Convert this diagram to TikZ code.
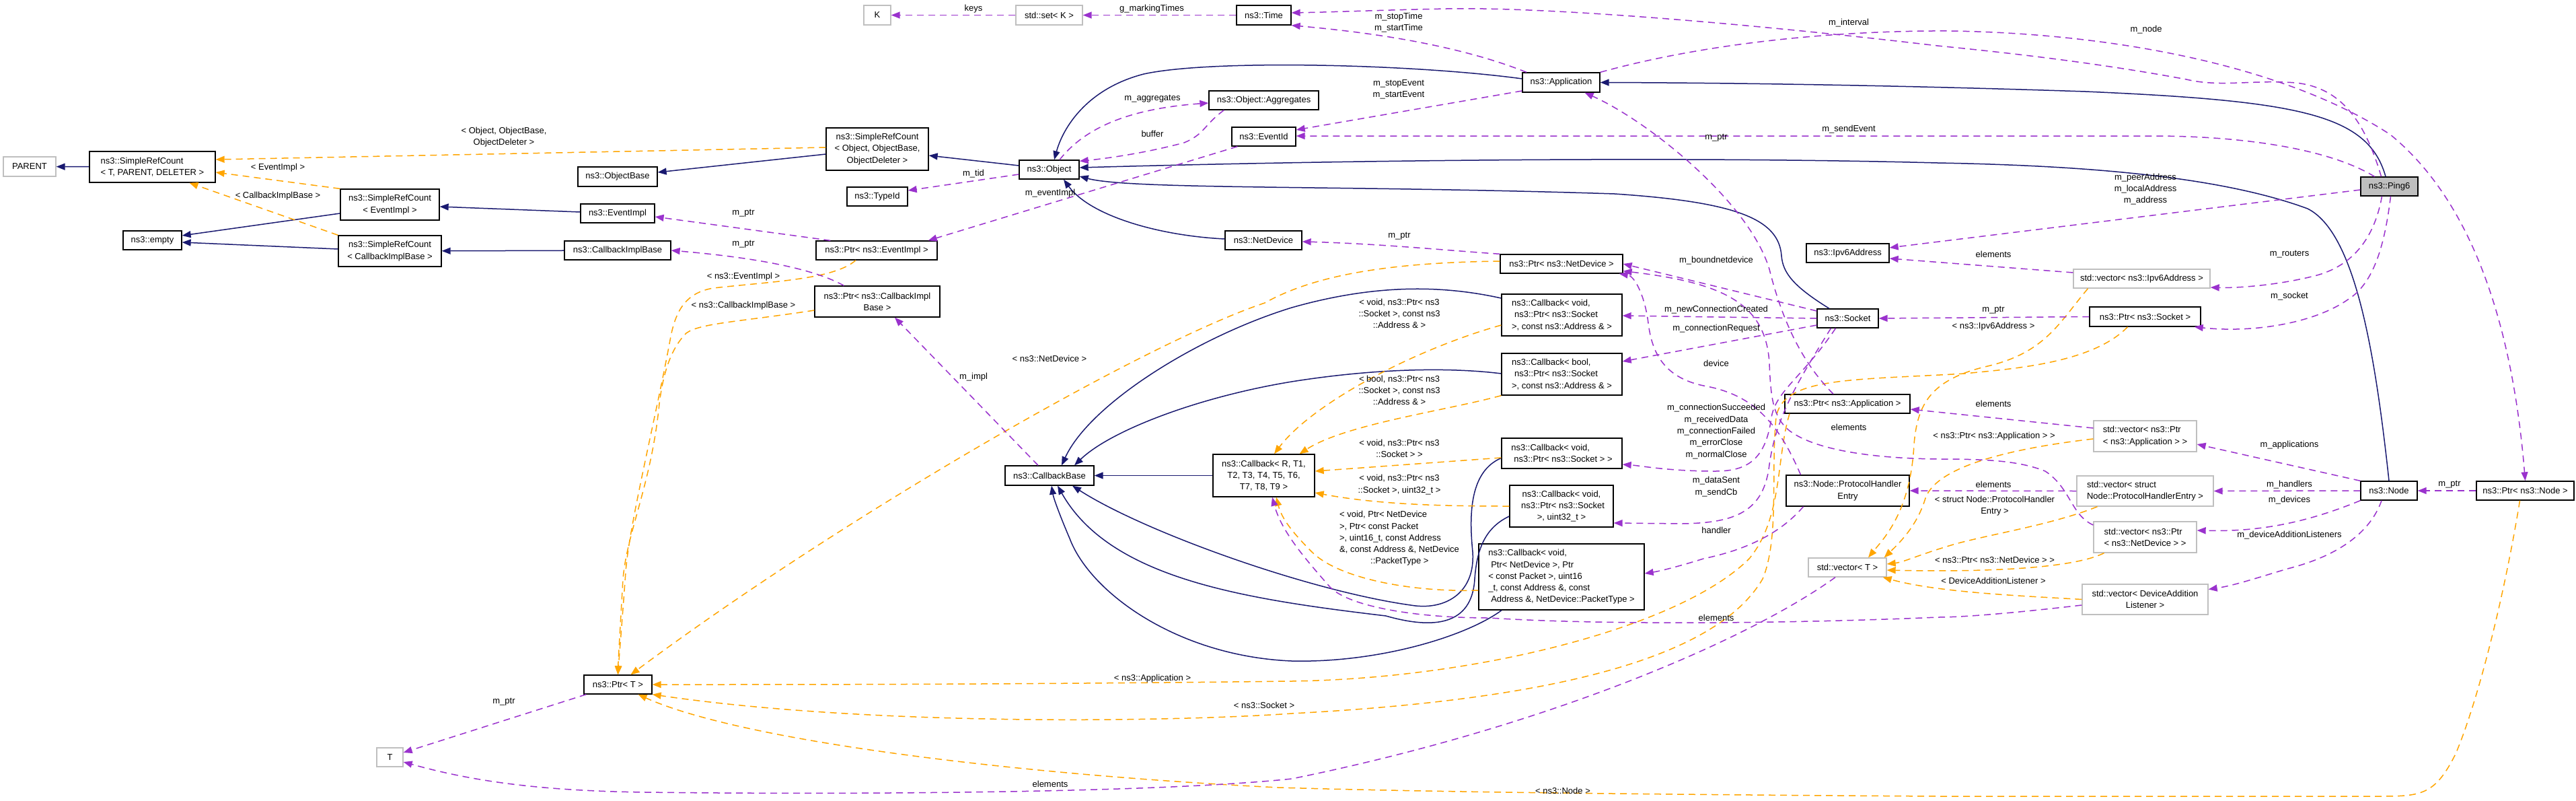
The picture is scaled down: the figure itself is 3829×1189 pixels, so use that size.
\documentclass[tikz,border=0pt]{standalone}
\usepackage{fontspec}
\setmainfont{Liberation Sans}
\usetikzlibrary{arrows.meta}
\definecolor{navy}{HTML}{191970}
\definecolor{purp}{HTML}{9A32CD}
\definecolor{orng}{HTML}{FFA500}
\definecolor{gbord}{HTML}{BFBFBF}
\begin{document}
\begin{tikzpicture}[x=1pt,y=-1pt,
  every node/.style={font=\fontsize{13}{17.3}\selectfont, inner sep=0pt},
  cbox/.style={draw=black, line width=1.3pt, fill=white, align=center},
  gbox/.style={draw=gbord, line width=1.3pt, fill=white, align=center},
  inh/.style={draw=navy, line width=1.5pt, -{Triangle[length=13pt,width=10pt]}},
  usage/.style={draw=purp, line width=1.5pt, dash pattern=on 10pt off 7pt, -{Triangle[length=13pt,width=10pt]}},
  tmpl/.style={draw=orng, line width=1.5pt, dash pattern=on 10pt off 7pt, -{Triangle[length=13pt,width=10pt]}},
  lbl/.style={align=center}
]
\fill[white] (0,0) rectangle (3829,1189);
\useasboundingbox (0,0) rectangle (3829,1189);

% ---------------- nodes ----------------
\node[gbox,minimum width=78pt,minimum height=29pt] (parent) at (44,247.5) {PARENT};
\node[cbox,align=left,minimum width=187pt,minimum height=46pt] (srcT) at (226.5,248) {ns3::SimpleRefCount\\< T, PARENT, DELETER >};
\node[cbox,minimum width=147pt,minimum height=46pt] (srcEv) at (579.5,304) {ns3::SimpleRefCount\\< EventImpl >};
\node[cbox,minimum width=87pt,minimum height=28pt] (empty) at (226.5,357) {ns3::empty};
\node[cbox,minimum width=153pt,minimum height=46pt] (srcCb) at (579.5,373) {ns3::SimpleRefCount\\< CallbackImplBase >};
\node[cbox,minimum width=118pt,minimum height=29pt] (objbase) at (918,262.5) {ns3::ObjectBase};
\node[cbox,minimum width=110pt,minimum height=28pt] (eventimpl) at (918,317) {ns3::EventImpl};
\node[cbox,minimum width=158pt,minimum height=28pt] (cbimplbase) at (918,372) {ns3::CallbackImplBase};
\node[gbox,minimum width=40pt,minimum height=29pt] (K) at (1304,22.5) {K};
\node[gbox,minimum width=99pt,minimum height=29pt] (setK) at (1559.5,22.5) {std::set< K >};
\node[cbox,minimum width=81pt,minimum height=29pt] (time) at (1878.5,22.5) {ns3::Time};
\node[cbox,minimum width=152pt,minimum height=63pt] (srcObj) at (1304,221.5) {ns3::SimpleRefCount\\< Object, ObjectBase,\\ObjectDeleter >};
\node[cbox,minimum width=89pt,minimum height=28pt] (object) at (1559.5,252) {ns3::Object};
\node[cbox,minimum width=90pt,minimum height=28pt] (typeid) at (1304,292) {ns3::TypeId};
\node[cbox,minimum width=163pt,minimum height=28pt] (aggr) at (1878.5,149) {ns3::Object::Aggregates};
\node[cbox,minimum width=95pt,minimum height=28pt] (eventid) at (1878.5,203) {ns3::EventId};
\node[cbox,minimum width=114pt,minimum height=28pt] (netdevice) at (1878,357) {ns3::NetDevice};
\node[cbox,minimum width=180pt,minimum height=28pt] (ptrEv) at (1303,372) {ns3::Ptr< ns3::EventImpl >};
\node[cbox,minimum width=115pt,minimum height=29pt] (app) at (2320.5,122.5) {ns3::Application};
\node[cbox,minimum width=182pt,minimum height=28pt] (ptrNd) at (2321,392) {ns3::Ptr< ns3::NetDevice >};
\node[cbox,minimum width=123pt,minimum height=28pt] (ipv6) at (2746.5,376) {ns3::Ipv6Address};
\node[cbox,fill=gbord,minimum width=85pt,minimum height=28pt] (ping6) at (3551.5,277) {ns3::Ping6};
\node[cbox,minimum width=186pt,minimum height=46pt] (ptrCb) at (1304,448) {ns3::Ptr< ns3::CallbackImpl\\Base >};
\node[cbox,minimum width=132pt,minimum height=29pt] (cbbase) at (1560,706.5) {ns3::CallbackBase};
\node[cbox,minimum width=151pt,minimum height=63pt] (cbR) at (1878.5,706.5) {ns3::Callback< R, T1,\\T2, T3, T4, T5, T6,\\T7, T8, T9 >};
\node[cbox,align=left,minimum width=179pt,minimum height=62pt] (cbAddr) at (2321.5,468) {ns3::Callback< void,\\\hspace*{4pt}ns3::Ptr< ns3::Socket\\>, const ns3::Address \& >};
\node[cbox,align=left,minimum width=179pt,minimum height=62pt] (cbBool) at (2321.5,556) {ns3::Callback< bool,\\\hspace*{4pt}ns3::Ptr< ns3::Socket\\>, const ns3::Address \& >};
\node[cbox,align=left,minimum width=179pt,minimum height=45pt] (cbSock) at (2321.5,673.5) {ns3::Callback< void,\\\hspace*{4pt}ns3::Ptr< ns3::Socket > >};
\node[cbox,minimum width=154pt,minimum height=62pt] (cbU32) at (2321,752) {ns3::Callback< void,\\\hspace*{4pt}ns3::Ptr< ns3::Socket\\>, uint32\_t >};
\node[cbox,align=left,minimum width=246pt,minimum height=98pt] (cbNd) at (2321,857) {ns3::Callback< void,\\\hspace*{4pt}Ptr< NetDevice >, Ptr\\< const Packet >, uint16\\\_t, const Address \&, const\\\hspace*{4pt}Address \&, NetDevice::PacketType >};
\node[cbox,minimum width=91pt,minimum height=28pt] (socket) at (2746.5,473) {ns3::Socket};
\node[cbox,minimum width=186pt,minimum height=28pt] (ptrApp) at (2746,600) {ns3::Ptr< ns3::Application >};
\node[cbox,minimum width=183pt,minimum height=46pt] (phe) at (2746.5,729) {ns3::Node::ProtocolHandler\\Entry};
\node[gbox,minimum width=203pt,minimum height=28pt] (vIpv6) at (3183.5,414) {std::vector< ns3::Ipv6Address >};
\node[cbox,minimum width=165pt,minimum height=29pt] (ptrSock) at (3188.5,470.5) {ns3::Ptr< ns3::Socket >};
\node[gbox,align=left,minimum width=153pt,minimum height=46pt] (vApp) at (3188.5,648) {std::vector< ns3::Ptr\\< ns3::Application > >};
\node[gbox,align=left,minimum width=203pt,minimum height=45pt] (vPhe) at (3188.5,729.5) {std::vector< struct\\Node::ProtocolHandlerEntry >};
\node[gbox,align=left,minimum width=153pt,minimum height=46pt] (vNd) at (3188.5,798) {std::vector< ns3::Ptr\\< ns3::NetDevice > >};
\node[cbox,minimum width=84pt,minimum height=28pt] (node) at (3551,729) {ns3::Node};
\node[cbox,minimum width=145pt,minimum height=28pt] (ptrNode) at (3753.5,729) {ns3::Ptr< ns3::Node >};
\node[cbox,minimum width=101pt,minimum height=28pt] (ptrT) at (918.5,1017) {ns3::Ptr< T >};
\node[gbox,minimum width=39pt,minimum height=28pt] (T) at (579.5,1125) {T};
\node[gbox,minimum width=116pt,minimum height=28pt] (vT) at (2746,843) {std::vector< T >};
\node[gbox,minimum width=187pt,minimum height=45pt] (vDal) at (3188.5,890.5) {std::vector< DeviceAddition\\Listener >};

% ---------------- inheritance (navy) ----------------
\draw[inh] (srcT) -- (parent);
\draw[inh] ([yshift=-13pt]srcEv.west) -- ([yshift=7pt]empty.east);
\draw[inh] ([yshift=3pt]srcCb.west) -- ([yshift=-3pt]empty.east);
\draw[inh] ([yshift=2pt]eventimpl.west) -- ([yshift=-3pt]srcEv.east);
\draw[inh] (cbimplbase) -- (srcCb);
\draw[inh] ([yshift=-7.5pt]srcObj.west) -- ([yshift=6.5pt]objbase.east);
\draw[inh] ([yshift=6pt]object.west) -- ([yshift=-9.5pt]srcObj.east);
\draw[inh] ([yshift=5.5pt]app.west) .. controls (2100,95) and (1800,88) .. (1700,110) .. controls (1615,132) and (1580,190) .. ([xshift=7.5pt]object.north);
\draw[inh] ([xshift=-5.5pt]ping6.north) .. controls (3520,170) and (3420,150) .. (3100,136) .. controls (2800,126) and (2550,123) .. (app.east);
\draw[inh] (node.north) .. controls (3530,520) and (3500,345) .. (3430,310) .. controls (3300,262) and (3100,246) .. (2880,242) .. controls (2500,232) and (2000,238) .. ([yshift=3pt]object.east);
\draw[inh] ([xshift=-27.5pt]socket.north) .. controls (2665,425) and (2650,405) .. (2648,380) .. controls (2644,325) and (2580,300) .. (2400,288) .. controls (2000,275) and (1680,282) .. ([yshift=-10pt]object.east);
\draw[inh] ([yshift=2pt]netdevice.west) .. controls (1720,350) and (1620,320) .. ([xshift=21.5pt]object.south);
\draw[inh] (cbR) -- (cbbase);
\draw[inh] ([yshift=25pt]cbAddr.west) .. controls (2150,425) and (2050,420) .. (1920,457) .. controls (1780,500) and (1620,600) .. ([xshift=18pt]cbbase.north);
\draw[inh] ([yshift=1pt]cbBool.west) .. controls (2150,545) and (2040,548) .. (1920,567) .. controls (1780,590) and (1650,640) .. ([xshift=37pt]cbbase.north);
\draw[inh] ([yshift=-7pt]cbSock.west) .. controls (2186,700) and (2183,760) .. (2189,820) .. controls (2193,880) and (2150,905) .. (2104,900) .. controls (1950,880) and (1700,790) .. ([xshift=34pt]cbbase.south);
\draw[inh] ([yshift=-15pt]cbU32.west) .. controls (2205,785) and (2195,820) .. (2192,860) .. controls (2188,930) and (2130,935) .. (2060,915) .. controls (1850,890) and (1650,860) .. ([xshift=12pt]cbbase.south);
\draw[inh] ([xshift=-89pt]cbNd.south) .. controls (2180,945) and (2050,985) .. (1920,982) .. controls (1750,975) and (1620,880) .. (1590,800) .. controls (1575,765) and (1566,740) .. ([xshift=3pt]cbbase.south);

% ---------------- template instantiation (orange) ----------------
\draw[tmpl] ([yshift=2.5pt]srcObj.west) -- ([yshift=11pt]srcT.east);
\draw[tmpl] (srcEv.north west) -- ([yshift=-8pt]srcT.east);
\draw[tmpl] (srcCb.north west) -- ([xshift=55pt]srcT.south);
\draw[tmpl] ([xshift=-31pt]ptrEv.south) .. controls (1240,415) and (1150,418) .. (1060,428) .. controls (1020,435) and (1005,460) .. (997,500) .. controls (975,620) and (935,780) .. (930,850) .. controls (925,920) and (920,980) .. (ptrT.north);
\draw[tmpl] ([yshift=-13pt]ptrCb.west) .. controls (1100,478) and (1040,480) .. (1020,495) .. controls (995,520) and (985,560) .. (980,600) .. controls (968,720) and (932,790) .. (926,860) .. controls (922,930) and (919,980) .. (ptrT.north);
\draw[tmpl] ([yshift=4pt]ptrNd.west) .. controls (2080,390) and (1960,405) .. (1880,450) .. controls (1700,510) and (1250,770) .. ([xshift=19pt]ptrT.north);
\draw[tmpl] ([xshift=-86pt]ptrApp.south) .. controls (2640,680) and (2650,770) .. (2600,830) .. controls (2500,930) and (2200,1008) .. (1920,1012) .. controls (1500,1017) and (1200,1017) .. (ptrT.east);
\draw[tmpl] ([xshift=-26pt]ptrSock.south) .. controls (3110,540) and (2990,548) .. (2920,555) .. controls (2750,565) and (2650,560) .. (2640,620) .. controls (2632,700) and (2645,800) .. (2620,860) .. controls (2550,980) and (2300,1040) .. (1920,1060) .. controls (1750,1072) and (1300,1080) .. (ptrT.south east);
\draw[tmpl] ([xshift=-8pt]ptrNode.south) .. controls (3720,900) and (3680,1050) .. (3650,1120) .. controls (3620,1180) and (3600,1183) .. (3540,1183) -- (2880,1183) .. controls (2400,1180) and (2100,1176) .. (1900,1170) .. controls (1500,1150) and (1100,1100) .. ([xshift=30pt]ptrT.south);
\draw[tmpl] ([yshift=-15pt]cbAddr.west) .. controls (2100,520) and (1950,600) .. ([xshift=15.5pt]cbR.north);
\draw[tmpl] (cbBool.south west) .. controls (2150,610) and (2000,630) .. ([xshift=53pt]cbR.north);
\draw[tmpl] ([yshift=-6.5pt]cbSock.west) -- ([yshift=6.5pt]cbR.east);
\draw[tmpl] (cbU32.west) .. controls (2150,752) and (2050,750) .. ([yshift=-25.5pt]cbR.east);
\draw[tmpl] ([yshift=-20pt]cbNd.west) .. controls (2100,880) and (1990,860) .. (1950,820) .. controls (1920,790) and (1905,770) .. ([xshift=18.5pt]cbR.south);
\draw[tmpl] ([xshift=-80pt]vIpv6.south) .. controls (3060,480) and (3040,525) .. (2950,545) .. controls (2870,565) and (2850,600) .. (2845,660) .. controls (2840,760) and (2800,800) .. ([xshift=31pt]vT.north);
\draw[tmpl] ([yshift=-4pt]vApp.west) .. controls (3000,665) and (2880,690) .. (2862,740) .. controls (2850,780) and (2825,805) .. ([xshift=-4pt]vT.north east);
\draw[tmpl] ([xshift=-71pt]vPhe.south) .. controls (3050,780) and (2950,795) .. (2900,810) .. controls (2850,825) and (2830,835) .. ([yshift=5pt]vT.east);
\draw[tmpl] ([xshift=-61pt]vNd.south) .. controls (3080,845) and (2950,850) .. ([yshift=-4pt]vT.east);
\draw[tmpl] (vDal.west) .. controls (3000,885) and (2880,880) .. ([xshift=-6pt]vT.south east);

% ---------------- usage (purple) ----------------
\draw[usage] (setK) -- (K);
\draw[usage] (time) -- (setK);
\draw[usage] ([xshift=-51.5pt]app.north) .. controls (2150,60) and (2000,45) .. (time.south east);
\draw[usage] ([xshift=-12pt]ping6.north) .. controls (3515,180) and (3480,130) .. (3412,123) .. controls (3350,118) and (3300,130) .. (3250,118) .. controls (3100,90) and (2950,75) .. (2880,68) .. controls (2600,35) and (2300,10) .. (2150,13) .. controls (2050,15) and (1980,18) .. ([yshift=3.5pt]time.east);
\draw[usage] (app.north east) .. controls (2550,60) and (2750,45) .. (2900,46) .. controls (3150,50) and (3400,100) .. (3553,200) .. controls (3700,320) and (3740,550) .. (ptrNode.north);
\draw[usage] ([yshift=-12.5pt]app.west) -- ([yshift=10pt]eventid.east);
\draw[usage] ([xshift=-22pt]ping6.north) .. controls (3460,220) and (3330,202) .. (3200,202) -- ([yshift=1pt]eventid.east);
\draw[usage] ([xshift=9pt]eventid.south west) -- ([xshift=-14pt]ptrEv.north east);
\draw[usage] ([xshift=15.5pt]object.north) .. controls (1620,180) and (1700,160) .. ([yshift=-4pt]aggr.west);
\draw[usage] ([xshift=23pt]aggr.south west) .. controls (1790,185) and (1790,200) .. (1760,212) .. controls (1700,228) and (1640,236) .. ([yshift=-2pt]object.north east);
\draw[usage] ([yshift=-7pt]object.west) -- ([yshift=9pt]typeid.east);
\draw[usage] ([xshift=22pt]ptrEv.north west) -- ([yshift=-5pt]eventimpl.east);
\draw[usage] ([xshift=44pt]ptrCb.north west) .. controls (1220,405) and (1150,385) .. (cbimplbase.east);
\draw[usage] (ptrNd.north west) .. controls (2150,372) and (2050,362) .. ([yshift=-2pt]netdevice.east);
\draw[usage] ([xshift=-17pt]cbbase.north) -- ([xshift=26pt]ptrCb.south);
\draw[usage] ([xshift=-21pt]ptrApp.north) .. controls (2680,540) and (2650,480) .. (2630,400) .. controls (2600,300) and (2450,180) .. ([xshift=35pt]app.south);
\draw[usage] ([yshift=11pt]socket.west) -- (ptrNd.east);
\draw[usage] (socket.west) -- ([yshift=-1pt]cbAddr.east);
\draw[usage] ([yshift=-10pt]socket.west) -- ([yshift=19pt]cbBool.east);
\draw[usage] ([xshift=-18pt]socket.south) .. controls (2680,560) and (2640,580) .. (2633,620) .. controls (2625,680) and (2600,700) .. (2550,700) .. controls (2480,700) and (2440,692) .. ([yshift=-16.5pt]cbSock.east);
\draw[usage] ([xshift=-25pt]socket.south) .. controls (2670,570) and (2640,620) .. (2630,690) .. controls (2622,760) and (2580,777) .. (2500,778) -- ([yshift=-25pt]cbU32.east);
\draw[usage] ([xshift=-66pt]phe.south) .. controls (2640,800) and (2580,820) .. (2532,830) .. controls (2500,840) and (2470,848) .. ([yshift=5pt]cbNd.east);
\draw[usage] ([xshift=-70pt]phe.north) .. controls (2640,620) and (2600,585) .. (2532,573) .. controls (2470,560) and (2455,520) .. (2450,480) .. controls (2445,440) and (2430,410) .. ([xshift=-6pt]ptrNd.south east);
\draw[usage] ([yshift=-5pt]ping6.west) -- ([yshift=8pt]ipv6.east);
\draw[usage] ([yshift=9pt]vIpv6.west) -- ([yshift=-8pt]ipv6.east);
\draw[usage] ([xshift=-11pt]ping6.south) .. controls (3530,350) and (3500,395) .. (3440,410) .. controls (3380,425) and (3320,428) .. ([yshift=-13pt]vIpv6.east);
\draw[usage] ([xshift=2pt]ping6.south) .. controls (3545,360) and (3530,420) .. (3490,445) .. controls (3440,480) and (3350,495) .. ([xshift=-10pt]ptrSock.south east);
\draw[usage] (ptrSock.west) -- (socket.east);
\draw[usage] ([yshift=12pt]vApp.west) -- ([yshift=-8pt]ptrApp.east);
\draw[usage] (node.north west) -- ([yshift=-12pt]vApp.east);
\draw[usage] (node.west) -- (vPhe.east);
\draw[usage] (vPhe.west) -- (phe.east);
\draw[usage] (node.south west) .. controls (3420,780) and (3350,790) .. ([yshift=10pt]vNd.east);
\draw[usage] ([yshift=18pt]vNd.west) .. controls (3078,765) and (3078,725) .. (3040,700) .. controls (3000,684) and (2950,682) .. (2880,682) .. controls (2790,681) and (2700,670) .. (2660,640) .. controls (2635,620) and (2632,590) .. (2630,540) .. controls (2625,450) and (2560,420) .. ([yshift=4pt]ptrNd.south east);
\draw[usage] ([xshift=-11pt]node.south) .. controls (3520,800) and (3460,830) .. (3400,845) .. controls (3350,860) and (3320,870) .. ([yshift=15pt]vDal.east);
\draw[usage] ([yshift=-8.5pt]vDal.west) .. controls (3000,910) and (2920,917) .. (2880,917) .. controls (2700,925) and (2400,930) .. (2214,918) .. controls (2100,918) and (2000,900) .. (1975,870) .. controls (1940,830) and (1905,790) .. ([xshift=12.5pt]cbR.south);
\draw[usage] (ptrNode.west) -- (node.east);
\draw[usage] ([xshift=4pt]ptrT.south west) -- ([yshift=7pt]T.east);
\draw[usage] ([xshift=-18pt]vT.south) .. controls (2600,950) and (2300,1080) .. (1920,1157) .. controls (1700,1180) and (1200,1180) .. (960,1177) .. controls (800,1175) and (700,1160) .. ([yshift=-7pt]T.east);

% ---------------- labels ----------------
\node[lbl] (l1) at (749,203.5) {< Object, ObjectBase,\\ObjectDeleter >};
\node[lbl] (l2) at (413,249) {< EventImpl >};
\node[lbl] (l3) at (413,291) {< CallbackImplBase >};
\node[lbl] (l4) at (1447,13) {keys};
\node[lbl] (l5) at (1712,13) {g\_markingTimes};
\node[lbl] (l6) at (1713,147) {m\_aggregates};
\node[lbl] (l7) at (1713,199) {buffer};
\node[lbl] (l8) at (1447,258) {m\_tid};
\node[lbl] (l9) at (1561,287) {m\_eventImpl};
\node[lbl] (l10) at (1105,317) {m\_ptr};
\node[lbl] (l11) at (1105,363) {m\_ptr};
\node[lbl] (l12) at (2079,33.5) {m\_stopTime\\m\_startTime};
\node[lbl] (l13) at (2748,34) {m\_interval};
\node[lbl] (l14) at (2079,132.5) {m\_stopEvent\\m\_startEvent};
\node[lbl] (l15) at (2748,192) {m\_sendEvent};
\node[lbl] (l16) at (2551,205) {m\_ptr};
\node[lbl] (l17) at (2080,351) {m\_ptr};
\node[lbl] (l18) at (2551,387) {m\_boundnetdevice};
\node[lbl] (l19) at (3190,44) {m\_node};
\node[lbl] (l20) at (3189,281) {m\_peerAddress\\m\_localAddress\\m\_address};
\node[lbl] (l21) at (2963,378) {elements};
\node[lbl] (l22) at (3403,378) {m\_routers};
\node[lbl] (l23) at (1105,411) {< ns3::EventImpl >};
\node[lbl] (l24) at (1105,454) {< ns3::CallbackImplBase >};
\node[lbl] (l25) at (1560,533) {< ns3::NetDevice >};
\node[lbl] (l26) at (1447,560) {m\_impl};
\node[lbl] (l27) at (2080,466) {< void, ns3::Ptr< ns3\\::Socket >, const ns3\\::Address \& >};
\node[lbl] (l28) at (2080,580) {< bool, ns3::Ptr< ns3\\::Socket >, const ns3\\::Address \& >};
\node[lbl] (l29) at (2080,666) {< void, ns3::Ptr< ns3\\::Socket > >};
\node[lbl] (l30) at (2080,720) {< void, ns3::Ptr< ns3\\::Socket >, uint32\_t >};
\node[lbl,align=left] (l31) at (2080,800) {< void, Ptr< NetDevice\\>, Ptr< const Packet\\>, uint16\_t, const Address\\\&, const Address \&, NetDevice\\\hspace*{46pt}::PacketType >};
\node[lbl] (l32) at (2551,460) {m\_newConnectionCreated};
\node[lbl] (l33) at (2551,488) {m\_connectionRequest};
\node[lbl] (l34) at (2551,540) {device};
\node[lbl] (l35) at (2551,641) {m\_connectionSucceeded\\m\_receivedData\\m\_connectionFailed\\m\_errorClose\\m\_normalClose};
\node[lbl] (l36) at (2551,723) {m\_dataSent\\m\_sendCb};
\node[lbl] (l37) at (2551,788) {handler};
\node[lbl] (l38) at (2748,635) {elements};
\node[lbl] (l39) at (3403,440) {m\_socket};
\node[lbl] (l40) at (2963,461) {m\_ptr};
\node[lbl] (l41) at (2963,485) {< ns3::Ipv6Address >};
\node[lbl] (l42) at (2963,600) {elements};
\node[lbl] (l43) at (2964,648) {< ns3::Ptr< ns3::Application > >};
\node[lbl] (l44) at (3403,661) {m\_applications};
\node[lbl] (l45) at (2963,720) {elements};
\node[lbl] (l46) at (3403,720) {m\_handlers};
\node[lbl] (l47) at (3641,720) {m\_ptr};
\node[lbl] (l48) at (2965,751.5) {< struct Node::ProtocolHandler\\Entry >};
\node[lbl] (l49) at (3403,743) {m\_devices};
\node[lbl] (l50) at (3403,795) {m\_deviceAdditionListeners};
\node[lbl] (l51) at (2965,832) {< ns3::Ptr< ns3::NetDevice > >};
\node[lbl] (l52) at (2963,863) {< DeviceAdditionListener >};
\node[lbl] (l53) at (2551,918) {elements};
\node[lbl] (l54) at (1713,1008) {< ns3::Application >};
\node[lbl] (l55) at (1879,1048) {< ns3::Socket >};
\node[lbl] (l56) at (1561,1165) {elements};
\node[lbl] (l57) at (2323,1175) {< ns3::Node >};
\node[lbl] (l58) at (749,1043) {m\_ptr};
\end{tikzpicture}
\end{document}
